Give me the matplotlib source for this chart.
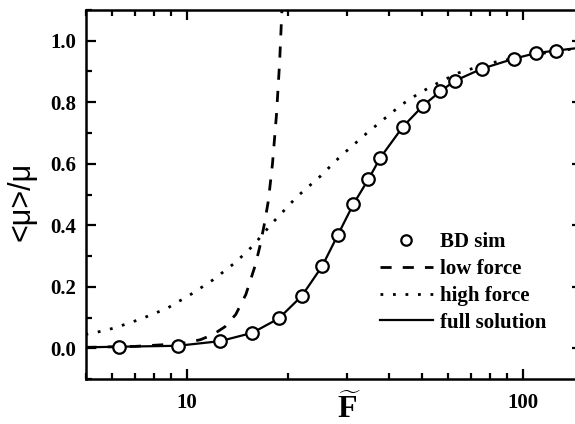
import matplotlib
matplotlib.use("Agg")
import matplotlib.pyplot as plt
from matplotlib.lines import Line2D
from matplotlib.ticker import MultipleLocator, LogLocator, FuncFormatter, NullFormatter

# Brownian dynamics simulation points
bd_force = [6.29, 9.40, 12.56, 15.67, 18.8, 22.0, 25.3, 28.15, 31.3, 34.7,
            37.7, 43.95, 50.4, 56.75, 62.9, 75.5, 94.4, 109.6, 125.6]
bd_mu = [0.005, 0.008, 0.023, 0.05, 0.097, 0.17, 0.267, 0.368, 0.468, 0.549,
         0.62, 0.72, 0.788, 0.835, 0.87, 0.909, 0.942, 0.96, 0.968]

# low force expansion
low_force = [5.0, 7.0, 9.0, 10.0, 11.0, 12.0, 13.0, 14.0, 15.0, 16.0, 16.5,
             17.0, 17.5, 18.0, 18.5, 18.9, 19.2]
low_mu = [0.003, 0.006, 0.013, 0.018, 0.028, 0.045, 0.07, 0.11, 0.175, 0.27,
          0.33, 0.4, 0.48, 0.6, 0.76, 0.93, 1.1]

# high force expansion
high_force = [5.0, 5.5, 6.1, 7.3, 8.75, 10.35, 12.0, 14.0, 15.8, 17.9, 21.25,
              24.9, 28.6, 34.3, 39.4, 43.7, 49.4, 56.2, 64.2, 79.6, 100, 125, 150]
high_mu = [0.045, 0.054, 0.066, 0.095, 0.13, 0.177, 0.223, 0.28, 0.335, 0.405,
           0.492, 0.558, 0.623, 0.699, 0.753, 0.793, 0.831, 0.864, 0.895, 0.927,
           0.948, 0.966, 0.977]

# full solution
full_force = [5.0, 6.29, 9.40, 12.56, 15.67, 18.8, 22.0, 25.3, 28.15, 31.3,
              34.7, 37.7, 43.95, 50.4, 56.75, 62.9, 75.5, 94.4, 109.6, 125.6, 150]
full_mu = [0.003, 0.005, 0.008, 0.023, 0.05, 0.097, 0.17, 0.267, 0.368, 0.468,
           0.549, 0.62, 0.72, 0.788, 0.835, 0.87, 0.909, 0.942, 0.96, 0.968, 0.978]

plt.rcParams["font.family"] = "Liberation Serif"
plt.rcParams["font.weight"] = "bold"
plt.rcParams["mathtext.fontset"] = "custom"
plt.rcParams["mathtext.bf"] = "Liberation Serif:bold"
plt.rcParams["mathtext.rm"] = "Liberation Serif:bold"

dash = (0, (4, 4))
dots = (0, (1, 3.5))

W, H = 575, 424
fig = plt.figure(figsize=(W / 100, H / 100), dpi=100)
ax = fig.add_axes([85.5 / W, 1 - 379 / H, 496.5 / W, 369 / H])

ax.plot(full_force, full_mu, color="black", lw=1.6, zorder=2)
ax.plot(low_force, low_mu, color="black", lw=2.0, linestyle=dash, zorder=2)
ax.plot(high_force, high_mu, color="black", lw=2.0, linestyle=dots, zorder=2)
ax.plot(bd_force, bd_mu, linestyle="none", marker="o", markersize=9,
        markerfacecolor="white", markeredgecolor="black", markeredgewidth=1.6, zorder=3)

ax.set_xscale("log")
ax.set_xlim(5, 150)
ax.set_ylim(-0.1, 1.1)

ax.xaxis.set_major_locator(LogLocator(base=10))
ax.xaxis.set_minor_locator(LogLocator(base=10, subs=range(2, 10)))
ax.xaxis.set_major_formatter(FuncFormatter(lambda v, p: f"{v:g}"))
ax.xaxis.set_minor_formatter(NullFormatter())
ax.yaxis.set_major_locator(MultipleLocator(0.2))
ax.yaxis.set_minor_locator(MultipleLocator(0.1))
ax.yaxis.set_major_formatter(FuncFormatter(lambda v, p: f"{v:.1f}"))

ax.tick_params(which="both", direction="in", top=True, right=True, width=1.6,
               labelsize=15)
ax.tick_params(axis="x", pad=10)
ax.tick_params(axis="y", pad=6.5)
ax.tick_params(which="major", length=7.5)
ax.tick_params(which="minor", length=4.5)
for s in ax.spines.values():
    s.set_linewidth(1.8)

fig.text(22 / W, 1 - 201 / H, "<μ>/μ", rotation=90, ha="center", va="center",
         family="Liberation Sans", weight="normal", fontsize=22)
fig.text(349 / W, 1 - 393 / H, r"$\widetilde{\mathbf{F}}$", ha="center", va="top",
         fontsize=23)

handles = [
    Line2D([], [], linestyle="none", marker="o", markersize=7.5, markerfacecolor="white",
           markeredgecolor="black", markeredgewidth=1.6),
    Line2D([], [], color="black", lw=2.0, linestyle=dash),
    Line2D([], [], color="black", lw=2.0, linestyle=dots),
    Line2D([], [], color="black", lw=1.6),
]
labels = ["BD sim", "low force", "high force", "full solution"]
ax.legend(handles, labels, loc="upper left", bbox_to_anchor=(0.593, 0.398),
          frameon=False, borderpad=0, borderaxespad=0, handlelength=2.55,
          handletextpad=0.34, labelspacing=0.33, fontsize=15)

fig.savefig("out.png", dpi=100)
